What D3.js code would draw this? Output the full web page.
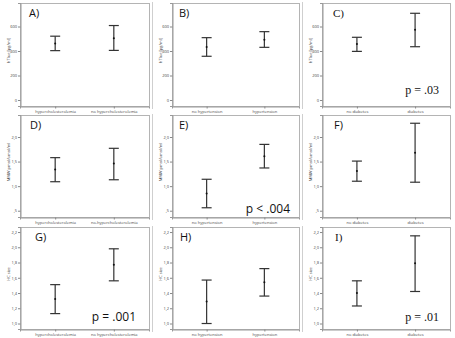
<!DOCTYPE html>
<html><head><meta charset="utf-8">
<script src="https://cdn.jsdelivr.net/npm/d3@7"></script>
<style>body{margin:0;background:#fff}svg{display:block}</style>
</head><body>
<svg id="c" width="455" height="338"></svg>
<script>
// ---- data ----
const groupsChol = ["hypercholesterolemia", "no hypercholesterolemia"];
const groupsCholD = ["hypercholesterolemia", "no-hypercholesterolemia"];
const groupsHyp = ["no hypertension", "hypertension"];
const groupsDia = ["no diabetes", "diabetes"];

const ticksRow1 = [0, 200, 400, 600];
const tickLabelsRow1 = ["0", "200", "400", "600"];
const ticksRow2 = [0.5, 1.0, 1.5, 2.0];
const tickLabelsRow2 = [",5", "1,0", "1,5", "2,0"];
const ticksRow3 = [1.0, 1.2, 1.4, 1.6, 1.8, 2.0, 2.2];
const tickLabelsRow3 = ["1,0", "1,2", "1,4", "1,6", "1,8", "2,0", "2,2"];

const yTitleRow1 = "hTIue [pg/ml]";
const yTitleRow2 = "MMW pmol/umol/ml";
const yTitleRow3 = "HC size";

// mean, lower, upper per group
const meanA = [462, 505], lowA = [403, 405], highA = [521, 608];
const meanB = [433, 492], lowB = [357, 430], highB = [509, 558];
const meanC = [457, 574], lowC = [397, 435], highC = [512, 708];
const meanD = [1.34, 1.46], lowD = [1.09, 1.13], highD = [1.58, 1.77];
const meanE = [0.85, 1.61], lowE = [0.56, 1.37], highE = [1.14, 1.85];
const meanF = [1.31, 1.68], lowF = [1.10, 1.08], highF = [1.51, 2.28];
const meanG = [1.32, 1.77], lowG = [1.13, 1.56], highG = [1.51, 1.98];
const meanH = [1.29, 1.54], lowH = [1.00, 1.36], highH = [1.57, 1.72];
const meanI = [1.40, 1.79], lowI = [1.23, 1.42], highI = [1.56, 2.15];

const letters = ["A)", "B)", "C)", "D)", "E)", "F)", "G)", "H)", "I)"];
const pTexts = ["", "", "p = .03", "", "p < .004", "", "p = .001", "", "p = .01"];

// ---- layout ----
const svg = d3.select("#c");
const cols = [[20, 149], [172, 299], [322, 450]];
const rows = [
  {top: 3, bottom: 106, domain: [-49, 792], ticks: ticksRow1, labels: tickLabelsRow1, title: yTitleRow1},
  {top: 115, bottom: 217, domain: [0.372, 2.448], ticks: ticksRow2, labels: tickLabelsRow2, title: yTitleRow2},
  {top: 227, bottom: 329, domain: [0.928, 2.266], ticks: ticksRow3, labels: tickLabelsRow3, title: yTitleRow3}
];
const panelData = [
  [groupsChol, meanA, lowA, highA], [groupsHyp, meanB, lowB, highB], [groupsDia, meanC, lowC, highC],
  [groupsCholD, meanD, lowD, highD], [groupsHyp, meanE, lowE, highE], [groupsDia, meanF, lowF, highF],
  [groupsChol, meanG, lowG, highG], [groupsHyp, meanH, lowH, highH], [groupsDia, meanI, lowI, highI]
];
const letterDx = [9, 7, 11, 10, 7, 12, 15, 8, 13];
const pDx = [0, 0, 11, 0, 9, 0, 13, 0, 11];
const pDy = [0, 0, 12, 0, 4, 0, 8, 0, 8];
const serifPanels = [2, 8];
const sans = "'Open Sans', 'Liberation Sans', Arial, sans-serif";
const serif = "'Liberation Serif', 'DejaVu Serif', serif";

// subfigure separators
[152.5, 302.5].forEach(x => {
  rows.forEach(r => {
    svg.append("line").attr("x1", x).attr("x2", x).attr("y1", r.top - 1).attr("y2", r.bottom + 3)
      .attr("stroke", "#cfcfcf").attr("stroke-width", 1);
  });
});

panelData.forEach((pd, i) => {
  const r = rows[Math.floor(i / 3)];
  const c = cols[i % 3];
  const [groups, mean, low, high] = pd;
  const g = svg.append("g");

  const x = d3.scalePoint().domain(groups).range([c[0], c[1]]).padding(0.6);
  const y = d3.scaleLinear().domain(r.domain).range([r.bottom, r.top]);

  // frame
  g.append("rect").attr("x", c[0] + 0.5).attr("y", r.top + 0.5)
    .attr("width", c[1] - c[0]).attr("height", r.bottom - r.top)
    .attr("fill", "#fff").attr("stroke", "#b4b4b4").attr("stroke-width", 1);

  // y axis
  const ya = g.append("g").attr("transform", `translate(${c[0] + 0.5},0)`)
    .call(d3.axisLeft(y).tickValues(r.ticks).tickFormat((d, k) => r.labels[k]).tickSize(2.5).tickPadding(1));
  ya.select(".domain").attr("stroke", "#999");
  ya.selectAll(".tick line").attr("stroke", "#888");
  ya.selectAll("text").attr("font-size", 4).attr("font-family", sans).attr("fill", "#444");

  // x axis
  const xa = g.append("g").attr("transform", `translate(0,${r.bottom + 0.5})`)
    .call(d3.axisBottom(x).tickSize(2).tickPadding(1.5));
  xa.select(".domain").attr("stroke", "#999");
  xa.selectAll(".tick line").attr("stroke", "#888");
  xa.selectAll("text").attr("font-size", 4).attr("font-family", sans).attr("fill", "#444");

  // y title
  g.append("text").attr("transform", `translate(${c[0] - 10},${(r.top + r.bottom) / 2 - 4}) rotate(-90)`)
    .attr("text-anchor", "middle").attr("font-size", 4).attr("font-family", sans).attr("fill", "#444")
    .text(r.title);

  // error bars
  const cap = 5;
  groups.forEach((grp, k) => {
    const cx = x(grp);
    g.append("line").attr("x1", cx).attr("x2", cx).attr("y1", y(low[k])).attr("y2", y(high[k]))
      .attr("stroke", "#333").attr("stroke-width", 1.2);
    [low[k], high[k]].forEach(v => {
      g.append("line").attr("x1", cx - cap).attr("x2", cx + cap).attr("y1", y(v)).attr("y2", y(v))
        .attr("stroke", "#333").attr("stroke-width", 1.2);
    });
    g.append("circle").attr("cx", cx).attr("cy", y(mean[k])).attr("r", 1).attr("fill", "#111");
  });

  // panel letter
  const isSerif = serifPanels.includes(i);
  g.append("text").attr("x", c[0] + letterDx[i]).attr("y", r.top + 14)
    .attr("font-size", 11).attr("font-family", isSerif ? serif : sans).attr("fill", "#111")
    .text(letters[i]);

  // p value
  if (pTexts[i]) {
    g.append("text").attr("x", c[1] - pDx[i]).attr("y", r.bottom - pDy[i])
      .attr("text-anchor", "end").attr("font-size", 12)
      .attr("font-family", isSerif ? serif : sans).attr("fill", "#111")
      .text(pTexts[i]);
  }
});
</script>
</body></html>
